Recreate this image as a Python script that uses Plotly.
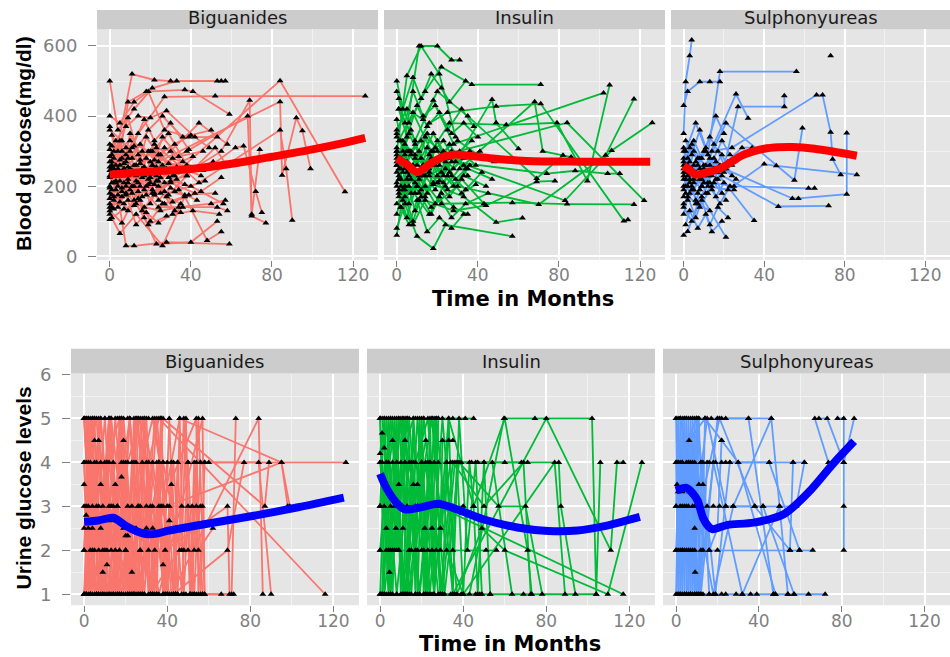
import plotly.graph_objects as go

# Layout positions below are written in target pixels (950 x 657 page).
# Horizontal positions map 1:1 onto the figure; vertical positions are
# converted with a small offset/scale (Y_OFF, Y_SCALE) into figure pixels.
FIG_W, FIG_H = 950, 665
Y_OFF, Y_SCALE = 7.8, 0.976

GROUPS = ["Biguanides", "Insulin", "Sulphonyureas"]
GROUP_COLORS = ["#F8766D", "#00BA38", "#619CFF"]

# ---- Blood glucose (mg/dl) per subject: (month, value) ----
BIG_BG = [
    [(0, 320), (6, 280), (14, 350), (27, 455), (52, 457), (126, 457)],
    [(1, 260), (9, 230), (20, 300), (35, 250), (84, 501), (116, 184)],
    [(2, 210), (11, 180), (24, 270), (84, 441), (85, 231), (92, 395), (95, 358), (99, 250)],
    [(0, 140), (8, 200), (22, 320), (44, 210), (84, 360), (87, 250), (90, 103)],
    [(3, 240), (16, 170), (33, 220), (55, 300), (69, 445), (70, 115), (77, 95)],
    [(1, 290), (10, 330), (29, 265), (48, 250), (62, 310), (66, 315), (72, 185), (75, 125)],
    [(0, 180), (7, 150), (19, 240), (38, 300), (68, 400), (70, 120), (74, 305)],
    [(0, 500), (4, 360), (12, 420), (21, 480), (33, 500), (53, 500)],
    [(1, 230), (11, 520), (22, 503), (30, 500), (55, 500), (57, 500)],
    [(2, 170), (9, 440), (18, 470), (37, 475), (41, 470), (59, 405)],
    [(0, 130), (6, 95), (15, 200), (24, 140), (53, 140), (58, 130)],
    [(3, 210), (8, 30), (12, 30), (28, 40), (59, 35)],
    [(1, 110), (5, 65), (13, 120), (26, 30), (37, 170), (48, 45), (55, 70)],
    [(0, 150), (10, 300), (17, 110), (23, 35), (40, 40), (53, 100)],
    [(0, 370), (4, 300), (9, 395), (16, 250), (25, 180), (31, 230)],
    [(1, 250), (5, 330), (8, 270), (14, 210), (19, 300), (26, 260), (34, 190)],
    [(0, 225), (3, 190), (7, 250), (12, 160), (18, 280), (23, 215), (29, 240)],
    [(2, 300), (6, 230), (10, 350), (15, 275), (21, 190), (27, 310), (36, 270)],
    [(0, 200), (4, 140), (9, 220), (13, 260), (20, 150), (24, 200), (32, 130)],
    [(1, 345), (5, 260), (11, 310), (17, 390), (22, 330), (30, 380), (39, 305)],
    [(0, 270), (3, 230), (8, 180), (14, 240), (19, 205), (25, 290), (33, 240)],
    [(2, 160), (7, 210), (12, 145), (17, 190), (23, 230), (28, 170), (35, 150)],
    [(0, 255), (5, 215), (10, 235), (16, 300), (21, 260), (27, 210), (38, 230)],
    [(1, 190), (6, 170), (11, 245), (16, 130), (22, 175), (30, 210), (42, 180)],
    [(3, 330), (8, 290), (13, 230), (18, 340), (24, 290), (32, 320), (40, 345)],
    [(0, 120), (4, 175), (9, 130), (15, 160), (20, 100), (26, 150), (35, 125)],
    [(1, 240), (6, 300), (12, 200), (17, 255), (25, 240), (31, 280), (44, 250)],
    [(2, 280), (7, 250), (14, 290), (20, 235), (26, 340), (34, 285), (46, 300)],
    [(0, 165), (5, 240), (10, 190), (19, 220), (24, 160), (30, 195), (43, 160)],
    [(1, 210), (7, 265), (13, 215), (18, 175), (23, 255), (29, 225), (37, 205)],
    [(0, 305), (4, 250), (9, 280), (15, 320), (22, 275), (28, 250), (41, 285)],
    [(2, 230), (6, 195), (12, 260), (17, 230), (24, 215), (33, 255), (45, 230)],
    [(0, 195), (5, 155), (11, 200), (16, 250), (21, 180), (27, 150), (39, 175)],
    [(3, 260), (9, 210), (14, 185), (20, 270), (25, 225), (32, 185), (47, 215)],
    [(1, 140), (8, 175), (13, 90), (18, 125), (24, 95), (31, 120), (36, 140)],
    [(0, 360), (6, 330), (11, 280), (19, 360), (26, 400), (36, 340), (50, 360)],
    [(2, 250), (8, 310), (15, 265), (21, 300), (29, 350), (38, 260), (46, 245)],
    [(0, 285), (4, 200), (10, 245), (18, 200), (23, 310), (32, 230), (51, 270)],
    [(1, 175), (6, 230), (14, 165), (20, 210), (27, 185), (37, 175), (52, 180)],
    [(3, 215), (9, 255), (16, 225), (22, 180), (30, 215), (40, 200), (56, 150)],
    [(0, 105), (7, 135), (13, 150), (19, 90), (28, 115), (41, 130), (54, 120)],
    [(1, 315), (8, 370), (14, 400), (20, 395), (28, 415), (42, 340), (49, 310)],
    [(0, 245), (5, 275), (12, 315), (21, 260), (30, 300), (44, 380), (58, 320)],
    [(2, 135), (9, 160), (17, 140), (25, 130), (34, 140), (50, 150), (57, 160)],
    [(0, 230), (6, 185), (13, 240), (22, 205), (31, 155), (45, 185), (55, 225)],
    [(1, 270), (10, 250), (20, 225), (29, 175), (38, 230), (52, 310), (57, 265)],
    [(0, 400), (5, 380), (12, 440), (19, 470), (27, 360), (39, 340), (53, 340)],
]

INS_BG = [
    [(0, 300), (5, 515), (12, 600), (21, 520), (29, 340)],
    [(2, 250), (11, 600), (20, 600), (27, 560), (31, 560)],
    [(0, 470), (6, 380), (14, 470), (22, 540), (37, 490), (71, 490)],
    [(1, 420), (9, 330), (18, 445), (28, 320), (102, 466)],
    [(0, 350), (7, 290), (16, 380), (25, 410), (49, 428), (71, 435), (112, 101), (114, 104)],
    [(2, 200), (10, 240), (19, 310), (33, 260), (68, 441), (72, 300), (86, 283)],
    [(0, 280), (4, 190), (13, 260), (23, 210), (47, 447), (49, 381), (60, 307)],
    [(1, 330), (8, 410), (17, 300), (26, 380), (54, 375), (79, 381), (94, 215), (105, 489)],
    [(0, 240), (6, 300), (15, 250), (24, 290), (84, 381), (122, 159)],
    [(3, 160), (9, 210), (17, 140), (30, 200), (70, 148), (103, 288), (117, 449)],
    [(0, 310), (7, 250), (14, 340), (25, 280), (83, 159), (106, 302), (126, 381)],
    [(1, 190), (5, 110), (11, 230), (22, 150), (57, 153), (84, 149), (117, 148)],
    [(0, 270), (6, 350), (16, 230), (27, 270), (74, 236), (88, 244), (104, 236), (110, 236)],
    [(2, 140), (8, 90), (14, 160), (28, 130), (44, 145), (69, 213), (78, 215)],
    [(0, 80), (4, 150), (10, 57), (18, 22), (24, 90), (57, 57)],
    [(1, 220), (9, 180), (18, 205), (33, 170), (49, 97), (62, 109)],
    [(0, 360), (5, 420), (13, 390), (20, 470), (35, 400), (69, 222), (82, 288)],
    [(0, 260), (3, 330), (7, 220), (11, 300), (16, 250), (20, 330), (26, 240), (33, 280)],
    [(1, 230), (4, 170), (8, 260), (12, 190), (17, 280), (21, 215), (27, 300), (35, 230)],
    [(0, 200), (2, 280), (6, 150), (10, 240), (15, 180), (19, 260), (24, 200), (31, 250)],
    [(0, 390), (3, 300), (7, 360), (12, 280), (18, 350), (23, 300), (30, 330), (40, 290)],
    [(1, 170), (5, 220), (9, 130), (14, 200), (19, 150), (25, 230), (32, 180), (39, 205)],
    [(0, 290), (4, 250), (9, 320), (13, 260), (18, 210), (24, 270), (29, 220), (36, 260)],
    [(2, 330), (5, 270), (10, 200), (15, 310), (21, 260), (26, 320), (34, 250)],
    [(0, 120), (3, 190), (8, 100), (12, 170), (17, 120), (22, 180), (28, 140), (35, 120)],
    [(1, 450), (4, 380), (8, 470), (13, 400), (19, 430), (25, 360), (32, 420), (38, 370)],
    [(0, 210), (4, 290), (9, 240), (14, 170), (20, 230), (25, 190), (33, 230), (44, 200)],
    [(2, 270), (6, 230), (11, 180), (16, 240), (22, 290), (28, 250), (36, 300), (48, 270)],
    [(0, 340), (5, 300), (10, 260), (15, 350), (20, 300), (27, 230), (34, 190), (42, 240)],
    [(1, 250), (4, 200), (9, 280), (14, 230), (19, 190), (24, 250), (31, 300), (39, 260)],
    [(0, 150), (6, 200), (11, 160), (16, 120), (21, 170), (27, 110), (34, 150), (45, 180)],
    [(0, 300), (3, 240), (7, 300), (12, 330), (17, 270), (23, 230), (29, 290), (37, 330)],
    [(2, 220), (7, 180), (11, 220), (16, 290), (22, 240), (28, 200), (35, 250), (47, 220)],
    [(0, 500), (3, 420), (8, 510), (12, 450), (17, 520), (22, 480), (26, 440), (34, 500)],
    [(1, 180), (5, 240), (10, 200), (15, 250), (20, 210), (26, 170), (32, 220), (43, 150)],
    [(0, 260), (4, 320), (9, 290), (13, 230), (18, 300), (23, 330), (29, 270), (41, 300)],
    [(0, 60), (2, 140), (6, 90), (10, 160), (15, 70), (21, 110), (27, 80), (33, 120)],
    [(1, 420), (5, 340), (10, 430), (15, 370), (21, 410), (27, 350), (33, 380), (40, 340)],
]

SUL_BG = [
    [(0, 350), (1, 498), (3, 572), (4, 617)],
    [(0, 430), (2, 470), (8, 498), (13, 498), (18, 498)],
    [(1, 300), (6, 380), (12, 290), (18, 527), (56, 527)],
    [(0, 250), (4, 320), (10, 260), (19, 230), (27, 427), (50, 427), (50, 458)],
    [(2, 200), (7, 180), (14, 300), (24, 310), (66, 460), (69, 460), (73, 354), (74, 277), (78, 233)],
    [(0, 270), (5, 220), (11, 260), (21, 380), (55, 217), (59, 366)],
    [(1, 180), (6, 150), (13, 210), (25, 200), (62, 194), (65, 194)],
    [(0, 230), (3, 270), (9, 200), (16, 240), (47, 142), (72, 144)],
    [(2, 160), (8, 220), (15, 250), (35, 102)],
    [(0, 310), (4, 240), (10, 300), (20, 250), (54, 165), (57, 165), (81, 177), (81, 352)],
    [(1, 220), (5, 260), (12, 200), (22, 190), (40, 263), (46, 258), (86, 233)],
    [(0, 140), (4, 100), (9, 170), (21, 54)],
    [(0, 60), (2, 71), (7, 150), (13, 130)],
    [(0, 190), (3, 240), (8, 280), (14, 230), (29, 310), (34, 310)],
    [(1, 260), (5, 210), (10, 240), (15, 320), (26, 463), (32, 394)],
    [(73, 572)],
    [(0, 280), (2, 230), (5, 300), (8, 250), (12, 210), (16, 270), (20, 240)],
    [(0, 220), (3, 180), (6, 240), (9, 200), (13, 260), (17, 220), (22, 270)],
    [(1, 240), (4, 200), (7, 260), (11, 300), (15, 250), (19, 290), (24, 230)],
    [(0, 170), (3, 220), (6, 160), (10, 210), (14, 190), (18, 150), (23, 200)],
    [(0, 300), (2, 260), (5, 330), (9, 280), (13, 340), (17, 300), (21, 250)],
    [(1, 200), (4, 250), (8, 190), (12, 230), (16, 170), (20, 210), (25, 190)],
    [(0, 260), (3, 310), (7, 280), (10, 230), (15, 280), (19, 330), (23, 290)],
    [(0, 120), (2, 170), (6, 110), (9, 160), (13, 90), (17, 140), (22, 110)],
    [(1, 330), (4, 290), (8, 360), (11, 310), (16, 400), (20, 350)],
    [(0, 240), (3, 210), (6, 270), (10, 250), (14, 200), (18, 260), (26, 220)],
    [(0, 150), (4, 190), (8, 140), (12, 180), (16, 220), (21, 160)],
    [(2, 280), (5, 240), (9, 220), (13, 280), (17, 240), (24, 260)],
    [(0, 200), (2, 240), (5, 190), (8, 230), (11, 180), (15, 210), (19, 180)],
    [(1, 90), (3, 130), (7, 80), (11, 120), (14, 70), (19, 100)],
]

# ---- Urine glucose levels per subject: (month, level) ----
BIG_UG = [
    [(0, 5), (5, 1), (10, 4), (16, 1), (22, 5), (27, 2), (33, 1), (40, 4), (58, 4), (126, 4)],
    [(1, 1), (4, 5), (9, 3), (14, 1), (19, 5), (25, 1), (31, 4), (36, 5), (116, 1)],
    [(0, 4), (3, 1), (8, 5), (13, 2), (18, 1), (24, 4), (29, 1), (35, 5), (42, 1), (84, 5), (86, 1)],
    [(2, 3), (6, 1), (11, 4), (17, 5), (21, 1), (26, 3), (32, 1), (38, 4), (84, 4), (90, 1)],
    [(0, 2), (4, 5), (7, 1), (12, 3), (18, 5), (23, 1), (28, 5), (34, 2), (46, 5), (95, 4), (99, 3)],
    [(1, 1), (5, 4), (10, 1), (15, 5), (20, 2), (26, 5), (31, 1), (37, 3), (54, 5), (55, 1)],
    [(0, 5), (3, 2), (9, 1), (14, 4), (19, 1), (25, 5), (30, 3), (36, 1), (57, 5), (58, 1)],
    [(1, 4), (6, 5), (11, 1), (16, 3), (22, 5), (27, 1), (33, 4), (39, 2), (69, 3), (70, 1)],
    [(0, 1), (4, 3), (8, 5), (13, 1), (20, 4), (24, 1), (29, 5), (41, 1), (71, 1), (73, 5)],
    [(2, 5), (7, 1), (12, 5), (17, 1), (23, 3), (28, 1), (34, 5), (43, 1), (69, 2), (77, 4)],
    [(0, 3), (5, 2), (10, 5), (15, 1), (21, 4), (27, 5), (32, 1), (38, 5), (87, 3), (89, 4)],
    [(1, 5), (6, 1), (12, 4), (17, 2), (22, 1), (28, 4), (33, 5), (40, 3), (95, 4), (98, 3)],
    [(0, 2.5), (3, 4), (8, 2.5), (13, 5), (19, 2.5), (24, 1), (30, 2.5), (38, 4), (44, 2.5)],
    [(0, 3.5), (2, 2.5), (5, 4.5), (8, 3.5), (9, 1.5), (11, 1.67), (15, 3.5), (18, 3.67), (20, 2.33), (23, 1.5)],
    [(1, 2.8), (4, 2.5), (7, 4.5), (13, 2.67), (19, 4.5), (21, 2.33), (25, 2.5), (33, 2.5), (38, 1.67), (41, 2.67), (42, 3.5)],
    [(0, 1), (4, 2), (9, 2), (14, 3), (20, 2), (26, 3), (31, 2), (36, 3), (48, 2), (52, 3), (55, 2), (62, 2.5)],
    [(2, 4), (7, 3), (13, 3), (18, 4), (25, 4), (30, 4), (36, 4), (45, 4), (50, 4), (56, 4), (60, 4)],
    [(1, 1), (6, 1), (12, 1), (18, 1), (24, 1), (29, 1), (35, 1), (45, 1), (49, 1), (54, 1), (57, 1), (66, 1), (72, 1)],
    [(0, 5), (5, 5), (10, 5), (16, 5), (21, 5), (26, 5), (31, 5), (37, 5)],
    [(3, 1), (8, 4), (12, 1), (18, 5), (23, 1), (27, 3), (32, 1), (46, 2), (50, 2), (53, 2), (56, 3)],
    [(1, 3), (6, 3), (11, 2), (16, 3), (21, 3), (26, 1), (32, 3), (38, 3), (47, 3), (54, 3), (57, 3)],
    [(0, 1), (3, 5), (7, 2), (12, 5), (17, 1), (22, 5), (27, 1), (33, 3), (39, 1), (44, 1), (51, 1), (53, 1)],
    [(0, 4), (2, 1), (5, 5), (8, 1), (11, 4), (14, 1), (17, 5), (20, 1), (23, 4), (26, 1), (29, 5), (32, 1), (35, 4), (38, 1), (41, 5), (44, 1)],
    [(1, 5), (3, 1), (6, 4), (9, 1), (12, 5), (15, 2), (18, 5), (21, 1), (24, 5), (27, 2), (30, 5), (33, 1), (36, 4), (39, 1), (42, 4), (45, 1), (48, 5), (51, 1), (54, 4), (57, 1)],
    [(0, 2), (2, 5), (4, 1), (7, 5), (10, 2), (13, 5), (16, 1), (19, 4), (22, 1), (25, 5), (28, 1), (31, 4), (34, 1), (37, 5), (40, 1), (43, 4), (47, 1), (50, 4), (53, 1), (56, 4)],
    [(35, 1), (37, 5), (40, 1), (42, 4), (44, 1), (46, 5), (48, 1), (50, 3), (52, 1), (55, 5), (58, 1)],
    [(36, 4), (38, 1), (41, 3), (43, 1), (45, 4), (47, 2), (49, 5), (51, 1), (53, 4), (56, 1), (58, 4)],
]

INS_UG = [
    [(0, 5), (4, 1), (9, 5), (14, 1), (20, 4), (26, 1), (33, 5), (45, 3), (60, 5), (71, 2), (73, 1)],
    [(1, 4), (5, 1), (10, 4), (16, 5), (22, 1), (28, 3), (117, 1)],
    [(0, 1), (3, 5), (8, 2), (13, 5), (19, 1), (24, 4), (30, 1), (36, 4), (54, 4), (63.5, 1)],
    [(2, 3), (6, 5), (11, 1), (17, 4), (23, 5), (29, 1), (35, 4), (50, 3), (69, 4), (72.5, 1)],
    [(0, 2), (5, 5), (12, 1), (18, 3), (25, 5), (31, 1), (38, 4), (57, 3), (70, 3), (78, 1)],
    [(1, 5), (7, 2), (12, 4), (19, 1), (26, 4), (32, 2), (40, 1), (84, 4), (89, 1)],
    [(0, 4), (4, 2), (10, 5), (15, 1), (21, 5), (27, 2), (34, 4), (86, 4), (87, 3), (94, 1)],
    [(1, 1), (6, 4), (11, 5), (17, 2), (22, 4), (28, 1), (36, 1), (43, 1), (59.6, 5), (74.5, 5), (102, 5), (104, 1), (106, 4)],
    [(0, 3), (3, 4), (8, 1), (14, 4), (20, 2), (27, 5), (35, 1), (80, 5), (111, 2), (114, 4), (117, 4)],
    [(2, 1), (7, 3), (13, 1), (18, 5), (24, 1), (30, 5), (37, 1), (49, 2.5), (60, 2), (109.6, 1), (126, 4)],
    [(0, 4.2), (1, 4.67), (2, 4.33), (3, 3.5), (6, 4.5), (9, 3.5), (12, 4.5), (16, 3.5), (18, 3.5), (22, 4.5)],
    [(3, 2.5), (4.5, 1.5), (7.6, 2.5), (11, 2.5), (21.5, 2.5), (25, 2.5), (29, 2.5), (30, 4.5), (33, 4.5), (35, 4.5)],
    [(0, 5), (2, 5), (5, 5), (9, 5), (13, 5), (17, 5), (21, 5), (25, 5), (28, 5), (35, 5), (41, 5), (45, 5)],
    [(0, 4), (4, 4), (8, 4), (12, 4), (16, 4), (20, 4), (24, 4), (28, 4), (32, 4), (39, 4), (44, 4), (47, 4), (50, 4), (60, 4), (68, 4), (71, 4)],
    [(0, 3), (5, 3), (9, 3), (13, 3), (18, 3), (22, 3), (27, 3), (30, 3), (35, 3), (40, 3)],
    [(0, 2), (3, 2), (6, 2), (9, 2), (15, 2), (18, 2), (21, 2), (23, 2), (51, 2), (56, 2)],
    [(0, 1), (3, 1), (8, 1), (12, 1), (17, 1), (21, 1), (25, 1), (29, 1), (34, 1), (39, 1), (46, 1), (48, 1), (53, 1), (69, 1), (104, 1)],
    [(0, 5), (2, 1), (4, 5), (6, 1), (8, 4), (10, 1), (12, 5), (14, 2), (16, 5), (18, 1), (20, 4), (22, 1), (24, 5), (26, 1), (28, 5)],
    [(1, 1), (3, 4), (5, 1), (7, 5), (9, 2), (11, 5), (13, 1), (15, 4), (17, 1), (19, 5), (21, 1), (23, 4), (25, 2), (27, 5), (29, 1)],
    [(0, 3), (2, 5), (5, 2), (8, 5), (11, 1), (14, 5), (17, 3), (20, 5), (23, 1), (26, 5), (29, 2), (32, 4), (35, 1), (38, 5), (42, 2), (46, 4), (49, 1)],
    [(30, 1), (33, 5), (35, 2), (37, 4), (40, 1), (43, 4), (45, 3), (47, 1), (50, 4), (53, 1)],
]

SUL_UG = [
    [(0, 5), (1, 1), (2, 5), (3, 2), (4, 5), (5, 1), (6, 4), (7, 1), (8, 5), (9, 2), (10, 5), (11, 1), (12, 4)],
    [(0, 4), (1, 2), (2, 4), (3, 1), (4, 5), (5, 3), (6, 5), (7, 1), (8, 4), (9, 1), (10, 5), (12, 1), (14, 5)],
    [(0, 3), (1, 5), (2, 1), (3, 5), (4, 2), (5, 4), (6, 1), (7, 5), (8, 3), (9, 1), (11, 5), (13, 2), (15, 4)],
    [(0, 1), (1, 4), (2, 3), (3, 4), (4, 1), (5, 5), (6, 2), (7, 4), (8, 1), (9, 5), (10, 1), (13, 4), (16, 1)],
    [(0, 2), (1, 3.33), (3, 3.33), (6.5, 3.33), (9, 2.5), (9.2, 1.5), (11, 3.5), (13, 3.5), (16, 2), (20, 2.5), (22, 4.5)],
    [(0, 5), (2, 5), (5, 5), (8, 5), (11, 5), (14, 5), (17, 5), (20, 5), (22, 5), (24, 5), (35, 5), (46, 5)],
    [(0, 4), (3, 4), (6, 4), (9, 4), (12, 4), (16, 4), (19, 4), (22, 4), (24, 4), (26, 4), (30, 4), (45, 4), (56.5, 4), (62, 4)],
    [(0, 3), (3, 3), (6, 3), (9, 3), (12, 3), (15, 3), (18, 3), (21, 3), (24, 3), (27.6, 3), (38, 3), (42, 3), (50, 3)],
    [(1, 1), (4, 1), (7, 1), (10, 1), (13, 1), (16, 1), (19, 1), (22, 1), (24, 1), (29, 1), (32, 1), (36, 1), (39, 1), (47, 1), (48, 1), (54, 1), (57, 1), (64, 1), (72, 1)],
    [(0, 2), (2, 2), (5, 2), (8, 2), (12, 2), (16, 2), (20, 2), (55, 2), (59.6, 2), (66, 2)],
    [(2, 1), (6.3, 4.5), (14, 5), (22, 4.5), (30, 4), (48, 1)],
    [(1, 4), (10, 5), (19, 1), (26, 4), (45, 4), (59.6, 2)],
    [(4, 3), (12, 1), (20, 5), (35, 5), (47, 1)],
    [(5, 1), (15, 5), (24, 3), (42, 3), (57, 1)],
    [(2, 5), (18, 1), (27.6, 3), (46, 5), (54, 1)],
    [(0.5, 3.5), (7, 2), (21, 5), (38, 3), (55, 2), (56.5, 4)],
    [(3, 2), (11, 1), (18, 4), (32, 1), (50, 3), (58, 3), (62, 4)],
    [(67, 5), (73.6, 4)],
    [(69, 5), (73, 5), (81, 4)],
    [(78, 5), (81, 5), (81, 3), (81, 2)],
    [(81, 4), (86, 5)],
]

# ---- Loess fits per group: (month, fitted value) ----
BIG_BG_FIT = [(0, 233), (10, 238), (20, 242), (30, 245), (40, 249), (60, 264), (80, 284), (100, 305), (115, 323), (126, 338)]
INS_BG_FIT = [(0, 279), (5, 262), (10, 240), (17, 266), (22, 282), (28, 290), (36, 287), (46, 280), (64, 272), (90, 270), (125, 270)]
SUL_BG_FIT = [(0, 258), (3, 246), (6, 233), (12, 240), (18, 250), (24, 270), (29, 288), (35, 300), (40, 307),
              (47, 311), (54, 312), (65, 307), (76, 297), (86, 287)]

BIG_UG_FIT = [(0, 2.65), (7, 2.68), (14, 2.74), (20, 2.56), (25, 2.44), (30, 2.37), (35, 2.38), (40, 2.44),
              (55, 2.57), (81, 2.78), (103, 2.98), (125, 3.2)]
INS_UG_FIT = [(0, 3.74), (3, 3.42), (8.5, 3.05), (12, 2.93), (19, 2.97), (28, 3.06), (37, 2.93), (50, 2.7),
              (66, 2.52), (81, 2.44), (95, 2.45), (108, 2.55), (125, 2.76)]
SUL_UG_FIT = [(0, 3.36), (5, 3.42), (8, 3.3), (10.5, 3.12), (13, 2.74), (15.5, 2.55), (17.7, 2.48), (21, 2.52),
              (25, 2.58), (37.5, 2.63), (52, 2.82), (64.6, 3.35), (75.5, 3.95), (86, 4.48)]

X_TICKS = [0, 40, 80, 120]
BG_TICKS = [0, 200, 400, 600]
UG_TICKS = [1, 2, 3, 4, 5, 6]

# ---- panel geometry (target pixels) ----
TOP_X = [(97, 378), (384, 665), (671, 950)]
TOP_Y = (27, 258)
TOP_STRIP = (1, 27)
BOT_X = [(71, 359), (367, 655), (663, 950)]
BOT_Y = (372, 604)
BOT_STRIP = (347, 372)
STRIP_TEXT_Y = [15.5, 360]

X_RANGE = [-6.3, 132.3]
BG_RANGE = [-10, 648]
UG_RANGE = [0.75, 6.02]

TICK_GREY = "#7F7F7F"
TICK_FONT = dict(family="DejaVu Sans, Arial, sans-serif", size=17, color=TICK_GREY)
STRIP_FONT = dict(family="DejaVu Sans, Arial, sans-serif", size=18, color="#1A1A1A")
XTITLE_FONT = dict(family="DejaVu Sans, Arial, sans-serif", size=21, color="black", weight="bold")
YTITLE_FONT = dict(family="Liberation Sans, Arial, sans-serif", size=21, color="black", weight="bold")


def clamp01(v):
    return min(1.0, max(0.0, v))


def px_x(p):
    return clamp01(p / FIG_W)


def px_y(p):
    return clamp01(1 - ((p - Y_OFF) / Y_SCALE) / FIG_H)


def spaghetti(subjects):
    xs, ys = [], []
    for s in subjects:
        pts = sorted(s, key=lambda p: p[0])
        for t, v in pts:
            xs.append(t)
            ys.append(v)
        xs.append(None)
        ys.append(None)
    return xs, ys


def points(subjects):
    xs, ys = [], []
    for s in subjects:
        for t, v in s:
            xs.append(t)
            ys.append(v)
    return xs, ys


fig = go.Figure()
layout = dict(
    width=FIG_W, height=FIG_H, margin=dict(l=0, r=0, t=0, b=0),
    paper_bgcolor="white", plot_bgcolor="#E5E5E5",
    showlegend=False, shapes=[], annotations=[],
)

panels = [
    (BIG_BG, BIG_BG_FIT, 0, 0), (INS_BG, INS_BG_FIT, 1, 0), (SUL_BG, SUL_BG_FIT, 2, 0),
    (BIG_UG, BIG_UG_FIT, 0, 1), (INS_UG, INS_UG_FIT, 1, 1), (SUL_UG, SUL_UG_FIT, 2, 1),
]

for i, (subjects, fit, col, row) in enumerate(panels):
    n = i + 1
    xa = "x" if n == 1 else f"x{n}"
    ya = "y" if n == 1 else f"y{n}"
    xkey = "xaxis" if n == 1 else f"xaxis{n}"
    ykey = "yaxis" if n == 1 else f"yaxis{n}"

    xpix = TOP_X[col] if row == 0 else BOT_X[col]
    ypix = TOP_Y if row == 0 else BOT_Y
    spix = TOP_STRIP if row == 0 else BOT_STRIP
    color = GROUP_COLORS[col]
    fit_color = "#FF0000" if row == 0 else "#0000FF"

    lx, ly = spaghetti(subjects)
    fig.add_trace(go.Scatter(x=lx, y=ly, mode="lines", xaxis=xa, yaxis=ya,
                             line=dict(color=color, width=1.8), hoverinfo="skip"))
    mx, my = points(subjects)
    fig.add_trace(go.Scatter(x=mx, y=my, mode="markers", xaxis=xa, yaxis=ya,
                             marker=dict(symbol="triangle-up", size=6, color="black", line=dict(width=0))))
    fig.add_trace(go.Scatter(x=[p[0] for p in fit], y=[p[1] for p in fit], mode="lines",
                             xaxis=xa, yaxis=ya, line=dict(color=fit_color, width=8, shape="spline", smoothing=0.8)))

    layout[xkey] = dict(
        domain=[px_x(xpix[0]), px_x(xpix[1])], anchor=ya, range=X_RANGE,
        tickmode="array", tickvals=X_TICKS, ticktext=[str(t) for t in X_TICKS],
        showgrid=True, gridcolor="white", gridwidth=1.6, zeroline=False, showline=False,
        ticks="outside", ticklen=6, tickwidth=1.2, tickcolor=TICK_GREY, tickfont=TICK_FONT,
        ticklabelstandoff=-6,
        minor=dict(tick0=0, dtick=20, showgrid=True, gridcolor="#F2F2F2", gridwidth=0.8, ticks=""),
        fixedrange=True,
    )
    if row == 0:
        yticks, yrange, ydt = BG_TICKS, BG_RANGE, 100
    else:
        yticks, yrange, ydt = UG_TICKS, UG_RANGE, 0.5
    layout[ykey] = dict(
        domain=[px_y(ypix[1]), px_y(ypix[0])], anchor=xa, range=yrange,
        tickmode="array", tickvals=yticks, ticktext=[str(t) for t in yticks],
        showgrid=True, gridcolor="white", gridwidth=1.6, zeroline=False, showline=False,
        ticks="outside" if col == 0 else "", ticklen=8, tickwidth=1.2, tickcolor=TICK_GREY,
        showticklabels=(col == 0), tickfont=dict(TICK_FONT, size=18), ticklabelstandoff=7,
        minor=dict(tick0=0, dtick=ydt, showgrid=True, gridcolor="#F2F2F2", gridwidth=0.8, ticks=""),
        fixedrange=True,
    )

    # facet strip
    layout["shapes"].append(dict(
        type="rect", xref="paper", yref="paper",
        x0=px_x(xpix[0]), x1=px_x(xpix[1]), y0=px_y(spix[1]), y1=px_y(spix[0]),
        fillcolor="#CCCCCC", line=dict(width=0), layer="below",
    ))
    layout["annotations"].append(dict(
        text=GROUPS[col], xref="paper", yref="paper",
        x=px_x((xpix[0] + xpix[1]) / 2), y=px_y(STRIP_TEXT_Y[row]),
        xanchor="center", yanchor="middle", showarrow=False, font=STRIP_FONT,
    ))

# axis titles
layout["annotations"] += [
    dict(text="Time in Months", xref="paper", yref="paper", x=px_x(523), y=px_y(297),
         xanchor="center", yanchor="middle", showarrow=False, font=XTITLE_FONT),
    dict(text="Time in Months", xref="paper", yref="paper", x=px_x(510), y=px_y(643),
         xanchor="center", yanchor="middle", showarrow=False, font=XTITLE_FONT),
    dict(text="Blood glucose(mg/dl)", xref="paper", yref="paper", x=px_x(24), y=px_y(142),
         xanchor="center", yanchor="middle", showarrow=False, textangle=-90, font=YTITLE_FONT),
    dict(text="Urine glucose levels", xref="paper", yref="paper", x=px_x(23), y=px_y(487),
         xanchor="center", yanchor="middle", showarrow=False, textangle=-90, font=YTITLE_FONT),
]

fig.update_layout(**layout)
fig.write_html("out.html")
